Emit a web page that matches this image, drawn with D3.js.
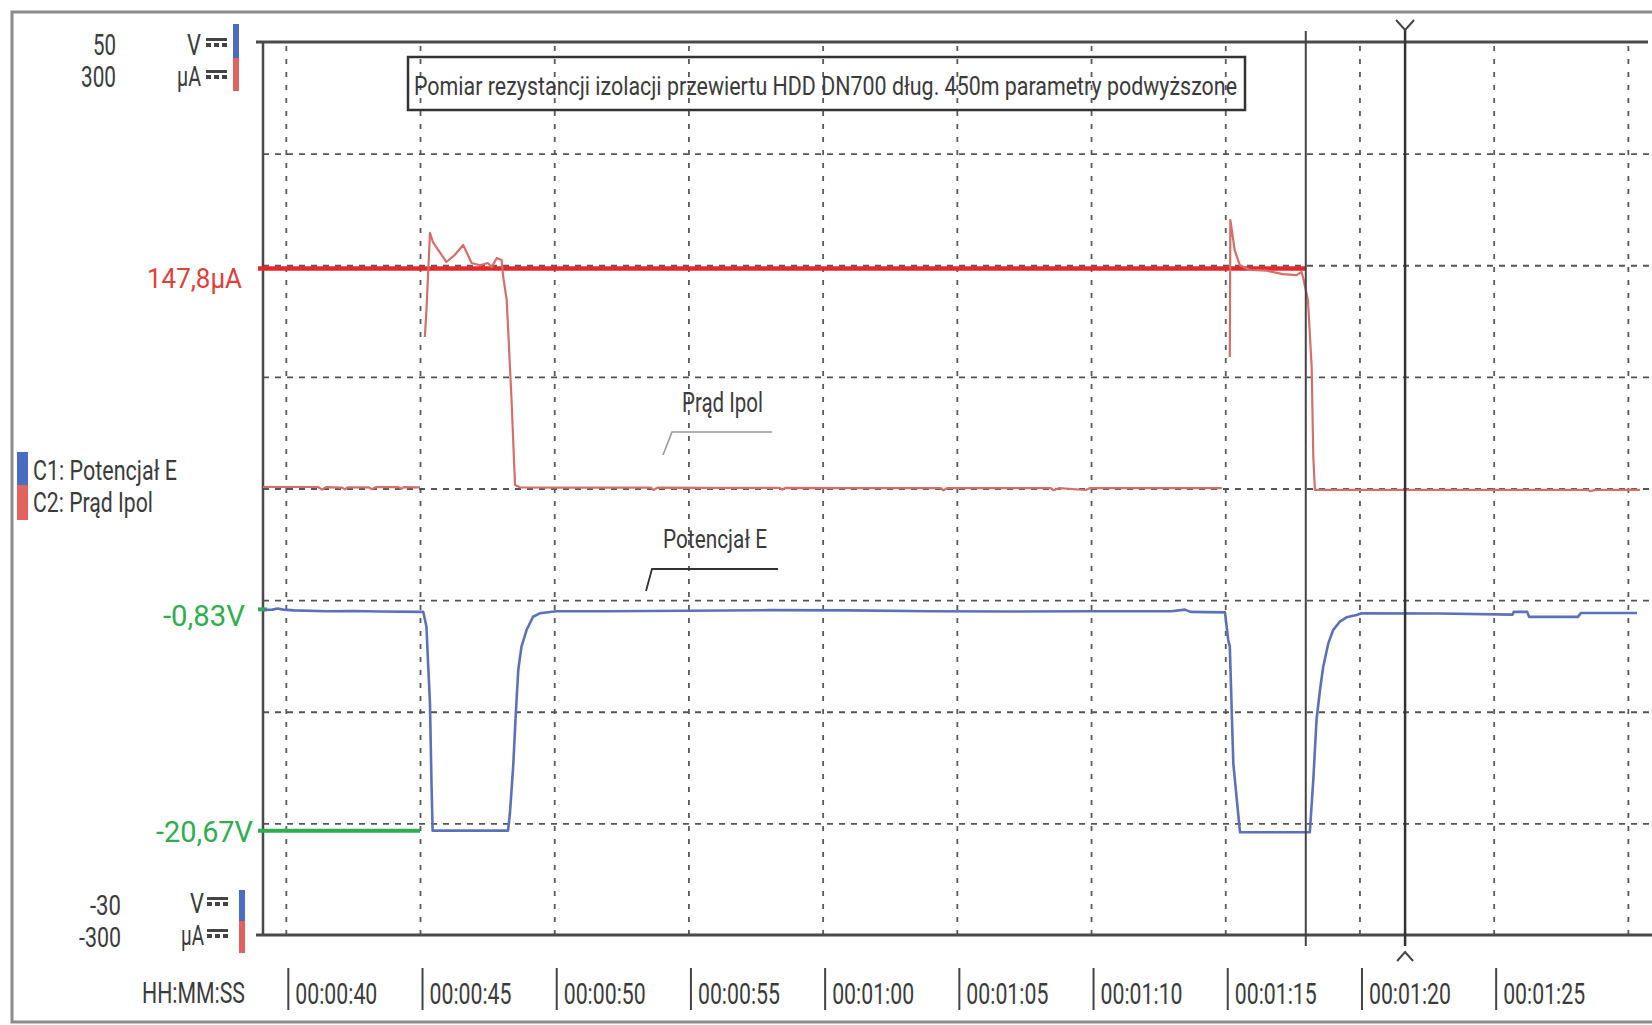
<!DOCTYPE html>
<html>
<head>
<meta charset="utf-8">
<script src="https://cdn.jsdelivr.net/npm/d3@7"></script>
<style>
  body { margin: 0; background: #fff; }
  svg { display: block; }
  text { font-family: Roboto, "DejaVu Sans", sans-serif; fill: #3b3b3b; }
</style>
</head>
<body>
<svg id="chart" width="1652" height="1025"></svg>
<script>
// ---- recorded channels: [time in seconds, value]; null marks a gap in the trace ----
// C2: polarisation current Ipol [µA]
const ipolSamples = [
  [39.15, 1.0], [40.3, 1.0], [41.2, 1.0], [41.35, -0.8], [41.5, 0.9], [42.1, 0.6], [42.2, -0.6],
  [42.3, 0.8], [43.1, 0.8], [43.2, -0.5], [43.35, 0.9], [44.2, 0.9], [44.3, -0.3], [44.4, 0.9],
  [45.0, 0.8], [45.1, null],
  [45.18, 101.8], [45.24, 120.0], [45.37, 171.7], [45.48, 165.6], [45.98, 152.2], [46.30, 157.0],
  [46.61, 163.6], [46.92, 151.5], [47.23, 150.0], [47.53, 151.5], [47.67, 148.8], [47.86, 154.9],
  [48.04, 153.5], [48.10, 142.1], [48.23, 126.7], [48.41, 59.5], [48.54, 2.4], [48.72, 0.8],
  [50.5, 0.6], [53.6, 0.6], [53.7, -1.0], [53.85, 0.6], [56.0, 0.4], [58.4, 0.4], [58.5, -0.8],
  [58.6, 0.4], [61.0, 0.3], [64.4, 0.3], [64.5, -1.2], [64.65, 0.3], [68.5, 0.2], [68.6, -1.2],
  [68.8, 0.2], [69.8, -1.0], [69.95, 0.2], [72.0, 0.3], [74.87, 0.3], [75.0, null],
  [75.17, 88.4], [75.19, 180.4], [75.35, 160.3], [75.54, 150.2], [75.92, 146.8], [76.54, 146.4],
  [77.15, 144.0], [77.66, 143.4], [77.84, 145.6], [77.91, 141.0], [78.08, 126.7], [78.22, 81.6],
  [78.28, 21.2], [78.34, -1.0], [78.4, -0.9], [82.0, -0.9], [85.0, -0.9], [88.5, -0.9],
  [88.6, -1.8], [88.8, -0.9], [90.45, -0.9]
];

// C1: potential E [V]
const potentialSamples = [
  [39.15, -0.88], [39.5, -0.85], [39.7, -0.75], [39.9, -0.85], [40.3, -0.92], [41.5, -1.0],
  [42.5, -0.97], [43.5, -1.02], [45.12, -1.05], [45.24, -2.38], [45.30, -5.63], [45.37, -9.2],
  [45.43, -16.7], [45.47, -20.65], [48.28, -20.65], [48.35, -19.07], [48.47, -14.92],
  [48.57, -10.11], [48.66, -6.26], [48.78, -4.17], [48.97, -2.68], [49.21, -1.49], [49.46, -1.18],
  [50.08, -1.0], [52.0, -1.0], [55.0, -0.95], [58.0, -0.9], [61.0, -0.92], [64.0, -1.0],
  [67.0, -1.02], [70.0, -1.0], [73.0, -1.0], [73.5, -0.85], [73.7, -1.05], [74.99, -1.1],
  [75.11, -3.57], [75.17, -4.17], [75.30, -14.62], [75.48, -19.1], [75.55, -20.8], [78.15, -20.8],
  [78.28, -16.11], [78.40, -10.74], [78.53, -8.05], [78.65, -5.96], [78.84, -3.87], [79.02, -2.68],
  [79.27, -1.93], [79.52, -1.54], [79.89, -1.33], [80.08, -1.18], [83.0, -1.2], [85.7, -1.3],
  [85.75, -1.05], [86.25, -1.05], [86.32, -1.5], [88.14, -1.5], [88.25, -1.15], [90.34, -1.15]
];

// time axis
const gridSeconds = [40, 45, 50, 55, 60, 65, 70, 75, 80, 85, 90];
const tickSeconds = [40, 45, 50, 55, 60, 65, 70, 75, 80, 85];
const tickLabels = ["00:00:40", "00:00:45", "00:00:50", "00:00:55", "00:01:00",
                    "00:01:05", "00:01:10", "00:01:15", "00:01:20", "00:01:25"];
const timeLabel = "HH:MM:SS";

// vertical ranges of both channels
const voltRange = [-30, 50];
const currentRange = [-300, 300];
const voltGrid = [-20, -10, 0, 10, 20, 30, 40];

// cursor readings
const cursorCurrent = 147.8;
const cursorCurrentLabel = "147,8µA";
const cursorVoltHigh = -0.83;
const cursorVoltHighLabel = "-0,83V";
const cursorVoltLow = -20.67;
const cursorVoltLowLabel = "-20,67V";
const cursorTimes = [78.0, 81.7];

// texts
const titleText = "Pomiar rezystancji izolacji przewiertu HDD DN700 dług. 450m parametry podwyższone";
const legendItems = ["C1: Potencjał E", "C2: Prąd Ipol"];
const traceNotes = ["Prąd Ipol", "Potencjał E"];

// colours
const blue = "#5b72b8", red = "#d66f6a", cursorRed = "#e3272b", green = "#2eae4f";
const barBlue = "#4a6cc4", barRed = "#e2625e";

// ---- layout ----
const svg = d3.select("#chart");
const plot = { left: 263, right: 1648, top: 42, bottom: 935 };

const x = d3.scaleLinear().domain([39.15, 90.75]).range([plot.left, plot.right]);
const yV = d3.scaleLinear().domain(voltRange).range([plot.bottom, plot.top]);
const yI = d3.scaleLinear().domain(currentRange).range([plot.bottom, plot.top]);

// helper for squeezed condensed text
function label(g, str, opts) {
  const t = g.append("text")
    .attr("x", opts.x).attr("y", opts.y)
    .attr("font-size", opts.size)
    .attr("text-anchor", opts.anchor || "start")
    .text(str);
  if (opts.width) t.attr("textLength", opts.width).attr("lengthAdjust", "spacingAndGlyphs");
  if (opts.fill) t.style("fill", opts.fill);
  return t;
}

// outer frame
const frame = svg.append("g").attr("stroke", "#8c8c8c").attr("stroke-width", 3).attr("fill", "none");
frame.append("path").attr("d", "M1652,12 H12 V1022 H1652");

// grid: vertical
const gx = svg.append("g").attr("transform", `translate(0,${plot.bottom})`)
  .call(d3.axisBottom(x).tickValues(gridSeconds).tickSize(-(plot.bottom - plot.top)).tickFormat(""));
gx.select(".domain").remove();
gx.selectAll(".tick line").attr("stroke", "#5a5a5a").attr("stroke-width", 1.8).attr("stroke-dasharray", "5,8");

// grid: horizontal
const gy = svg.append("g").attr("transform", `translate(${plot.left},0)`)
  .call(d3.axisLeft(yV).tickValues(voltGrid).tickSize(-(1652 - plot.left)).tickFormat(""));
gy.select(".domain").remove();
gy.selectAll(".tick line").attr("stroke", "#555").attr("stroke-width", 1.8).attr("stroke-dasharray", "6,6");

// plot borders
const border = svg.append("g").attr("stroke", "#4a4a4a").attr("fill", "none");
border.append("line").attr("x1", 256).attr("x2", plot.right).attr("y1", plot.top).attr("y2", plot.top).attr("stroke-width", 3);
border.append("line").attr("x1", 256).attr("x2", 1652).attr("y1", plot.bottom).attr("y2", plot.bottom).attr("stroke-width", 3);
border.append("line").attr("x1", plot.left).attr("x2", plot.left).attr("y1", plot.top).attr("y2", plot.bottom).attr("stroke-width", 2.5);

// title box
svg.append("rect").attr("x", 408).attr("y", 57).attr("width", 837).attr("height", 53)
  .attr("fill", "none").attr("stroke", "#333").attr("stroke-width", 2.5);
label(svg, titleText, { x: 414, y: 95, size: 26, width: 823 });

// cursor lines for current and voltage readings
svg.append("line").attr("x1", 258).attr("x2", x(cursorTimes[0]))
  .attr("y1", yI(cursorCurrent)).attr("y2", yI(cursorCurrent))
  .attr("stroke", cursorRed).attr("stroke-width", 4.5);
svg.append("line").attr("x1", 258).attr("x2", x(45.0))
  .attr("y1", yV(cursorVoltLow)).attr("y2", yV(cursorVoltLow))
  .attr("stroke", green).attr("stroke-width", 4);
svg.append("line").attr("x1", 258).attr("x2", 267)
  .attr("y1", yV(cursorVoltHigh)).attr("y2", yV(cursorVoltHigh))
  .attr("stroke", green).attr("stroke-width", 4);

// traces
const lineI = d3.line().defined(d => d[1] !== null).x(d => x(d[0])).y(d => yI(d[1]));
const lineV = d3.line().defined(d => d[1] !== null).x(d => x(d[0])).y(d => yV(d[1]));
svg.append("path").datum(ipolSamples).attr("d", lineI)
  .attr("fill", "none").attr("stroke", red).attr("stroke-width", 2.2).attr("stroke-linejoin", "round");
svg.append("path").datum(potentialSamples).attr("d", lineV)
  .attr("fill", "none").attr("stroke", blue).attr("stroke-width", 2.6).attr("stroke-linejoin", "round");

// time cursors
const c1 = x(cursorTimes[0]), c2 = x(cursorTimes[1]);
svg.append("line").attr("x1", c1).attr("x2", c1).attr("y1", 31).attr("y2", 946)
  .attr("stroke", "#444").attr("stroke-width", 2);
svg.append("line").attr("x1", c2).attr("x2", c2).attr("y1", 30).attr("y2", 946)
  .attr("stroke", "#333").attr("stroke-width", 2.5);
svg.append("path").attr("d", `M${c2 - 9},20 L${c2},30 L${c2 + 9},20`)
  .attr("fill", "none").attr("stroke", "#444").attr("stroke-width", 2);
svg.append("path").attr("d", `M${c2 - 8},961 L${c2},952 L${c2 + 8},961`)
  .attr("fill", "none").attr("stroke", "#444").attr("stroke-width", 2);

// trace notes with leaders
label(svg, traceNotes[0], { x: 682, y: 412, size: 27, width: 81 });
svg.append("path").attr("d", "M663,455 L672,432 L772,432")
  .attr("fill", "none").attr("stroke", "#9a9a9a").attr("stroke-width", 1.6);
label(svg, traceNotes[1], { x: 663, y: 548, size: 26, width: 104 });
svg.append("path").attr("d", "M646,591 L652,569 L778,569")
  .attr("fill", "none").attr("stroke", "#333").attr("stroke-width", 1.8);

// cursor value labels
label(svg, cursorCurrentLabel, { x: 242, y: yI(cursorCurrent) + 19, size: 28, width: 95, anchor: "end", fill: "#e0403a" });
label(svg, cursorVoltHighLabel, { x: 245, y: yV(cursorVoltHigh) + 17, size: 29, width: 82, anchor: "end", fill: green });
label(svg, cursorVoltLowLabel, { x: 253, y: yV(cursorVoltLow) + 11, size: 29, width: 97, anchor: "end", fill: green });

// channel scale indicators (top and bottom of the range)
function dcSymbol(g, x0, y0) {
  g.append("rect").attr("x", x0).attr("y", y0).attr("width", 21).attr("height", 3).attr("fill", "#444");
  [0, 8, 16].forEach(o => g.append("rect").attr("x", x0 + o).attr("y", y0 + 5).attr("width", 5).attr("height", 4).attr("fill", "#444"));
}
const scaleTop = svg.append("g");
label(scaleTop, String(voltRange[1]), { x: 116, y: 55, size: 30, width: 23, anchor: "end" });
label(scaleTop, String(currentRange[1]), { x: 116, y: 87, size: 30, width: 35, anchor: "end" });
label(scaleTop, "V", { x: 201, y: 55, size: 30, width: 14, anchor: "end" });
label(scaleTop, "µA", { x: 201, y: 86, size: 28, width: 24, anchor: "end" });
dcSymbol(scaleTop, 206, 38);
dcSymbol(scaleTop, 206, 70);
scaleTop.append("rect").attr("x", 233).attr("y", 24).attr("width", 6).attr("height", 34).attr("fill", barBlue);
scaleTop.append("rect").attr("x", 233).attr("y", 58).attr("width", 6).attr("height", 33).attr("fill", barRed);

const scaleBottom = svg.append("g");
label(scaleBottom, String(voltRange[0]), { x: 121, y: 915, size: 28, width: 31, anchor: "end" });
label(scaleBottom, String(currentRange[0]), { x: 121, y: 947, size: 28, width: 42, anchor: "end" });
label(scaleBottom, "V", { x: 204, y: 913, size: 27, width: 14, anchor: "end" });
label(scaleBottom, "µA", { x: 204, y: 945, size: 27, width: 23, anchor: "end" });
dcSymbol(scaleBottom, 207, 897);
dcSymbol(scaleBottom, 207, 929);
scaleBottom.append("rect").attr("x", 239).attr("y", 890).attr("width", 6).attr("height", 31).attr("fill", barBlue);
scaleBottom.append("rect").attr("x", 239).attr("y", 921).attr("width", 6).attr("height", 32).attr("fill", barRed);

// legend
const legend = svg.append("g");
legend.append("rect").attr("x", 17).attr("y", 452).attr("width", 11).attr("height", 33).attr("fill", barBlue);
legend.append("rect").attr("x", 17).attr("y", 485).attr("width", 11).attr("height", 35).attr("fill", barRed);
label(legend, legendItems[0], { x: 33, y: 480, size: 28, width: 144 });
label(legend, legendItems[1], { x: 33, y: 512, size: 28, width: 120 });

// time axis labels
const tAxis = svg.append("g").attr("transform", "translate(2,968)")
  .call(d3.axisBottom(x).tickValues(tickSeconds).tickFormat((d, i) => tickLabels[i]).tickSize(42).tickPadding(0));
tAxis.select(".domain").remove();
tAxis.selectAll(".tick line").attr("stroke", "#444").attr("stroke-width", 2);
tAxis.selectAll(".tick text")
  .attr("x", 7).attr("y", 36).attr("dy", null)
  .attr("text-anchor", "start").attr("font-size", 30)
  .attr("textLength", 82).attr("lengthAdjust", "spacingAndGlyphs")
  .style("fill", "#3b3b3b");
label(svg, timeLabel, { x: 245, y: 1003, size: 29, width: 103, anchor: "end" });
</script>
</body>
</html>
